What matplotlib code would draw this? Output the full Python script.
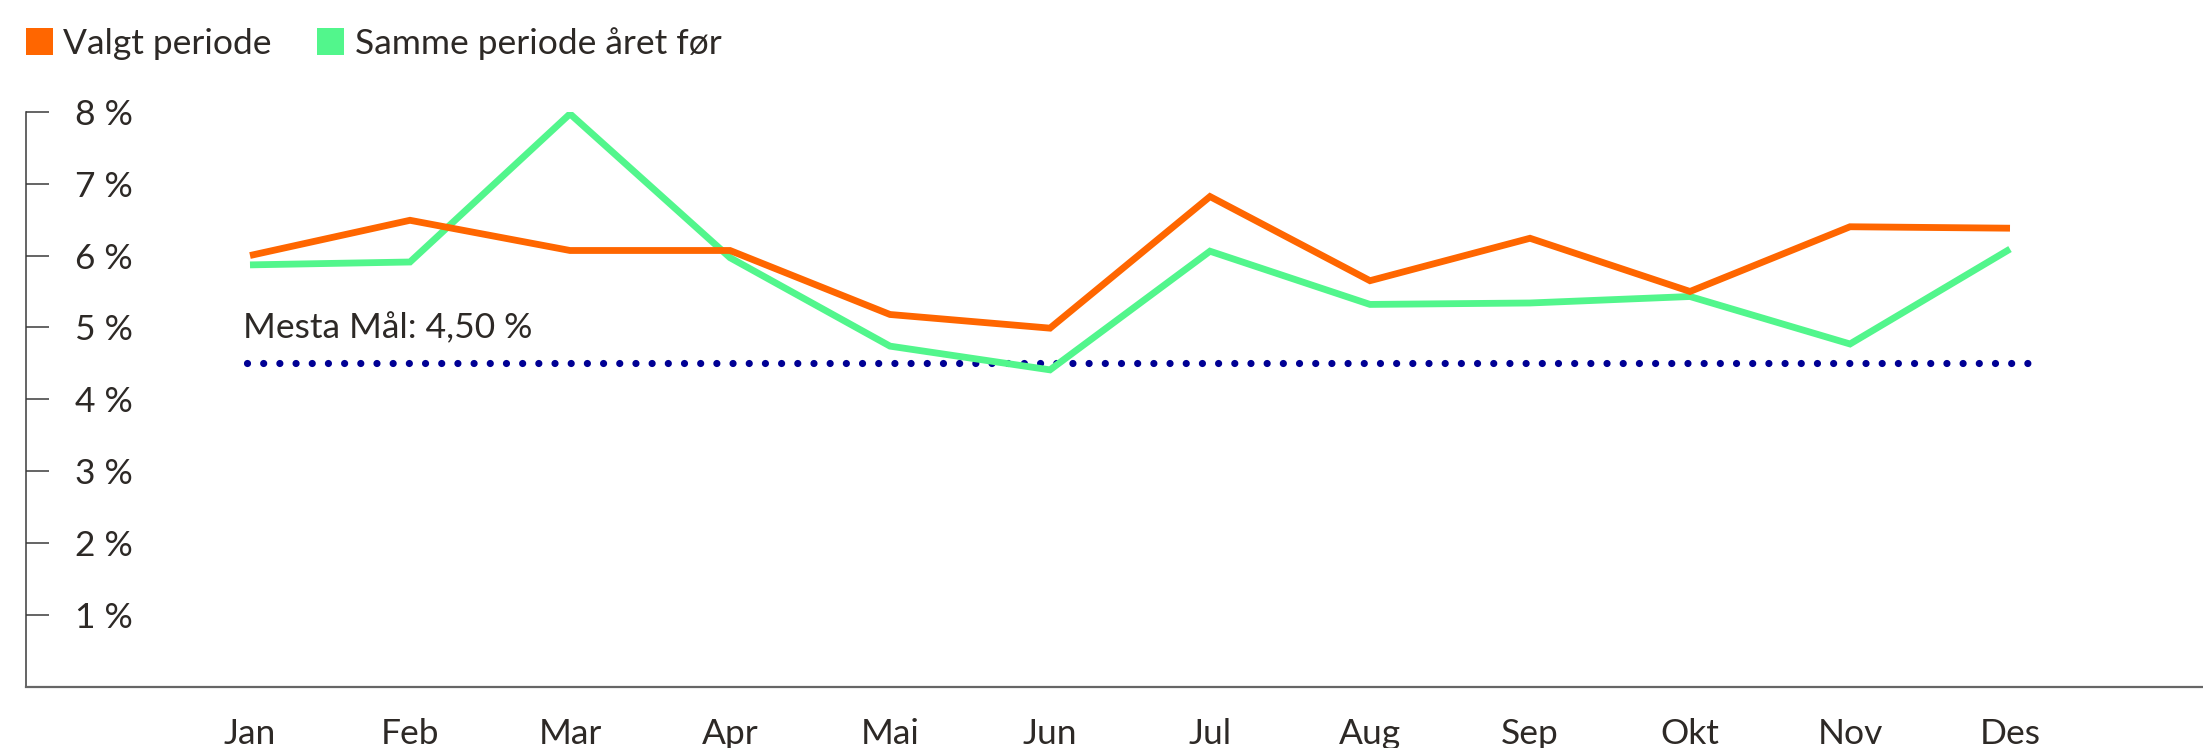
import matplotlib
matplotlib.use("Agg")
import matplotlib.pyplot as plt
from matplotlib.patches import Rectangle
import numpy as np

plt.rcParams['font.family'] = ['Lato', 'DejaVu Sans']

months = ["Jan", "Feb", "Mar", "Apr", "Mai", "Jun", "Jul", "Aug", "Sep", "Okt", "Nov", "Des"]
valgt_periode = [6.00, 6.49, 6.07, 6.07, 5.18, 4.99, 6.82, 5.65, 6.24, 5.50, 6.40, 6.38]
samme_periode_aaret_for = [5.87, 5.91, 7.97, 5.97, 4.74, 4.41, 6.06, 5.32, 5.34, 5.43, 4.77, 6.09]
series_labels = ["Valgt periode", "Samme periode året før"]
goal_value = 4.5
goal_label = "Mesta Mål"
y_ticks = [1, 2, 3, 4, 5, 6, 7, 8]

ORANGE = "#FF6600"
GREEN = "#52F68C"
NAVY = "#000094"
TEXT = "#2d2926"
FS = 25.5

W, H = 2203, 748
fig = plt.figure(figsize=(W / 100, H / 100), dpi=100)
ax = fig.add_axes([25.7 / W, 1 - 687 / H, 1 - 25.7 / W, (687 - 111.7) / H])

x = np.arange(len(months))
ax.plot(x, samme_periode_aaret_for, color=GREEN, lw=4.9,
        solid_joinstyle='miter', solid_capstyle='butt', zorder=3)
ax.plot(x, valgt_periode, color=ORANGE, lw=4.9,
        solid_joinstyle='miter', solid_capstyle='butt', zorder=4)

# goal line (dotted, round dots)
ax.plot([x[0] - 0.02, x[-1] + 0.115], [goal_value, goal_value], color=NAVY,
        lw=5.2, linestyle=(0, (0.001, 2.24)), dash_capstyle='round', zorder=2)
goal_txt = f"{goal_label}: {goal_value:.2f}".replace(".", ",") + " %"
ax.text(x[0] - 0.044, goal_value + 0.35, goal_txt, fontsize=FS, color=TEXT,
        ha='left', va='baseline')

ax.set_xlim((25.7 - 250) / 160, (W - 250) / 160)
ax.set_ylim(0, 8)

for s in ['top', 'right']:
    ax.spines[s].set_visible(False)
ax.spines['left'].set_color('#3a3a3a')
ax.spines['left'].set_linewidth(1.1)
ax.spines['bottom'].set_color('#666666')
ax.spines['bottom'].set_linewidth(1.6)

ax.set_yticks(y_ticks)
ax.set_yticklabels([f"{t} %" for t in y_ticks])
ax.tick_params(axis='y', direction='in', length=16.3, width=1.1, color='#3a3a3a',
               pad=-35.5, labelsize=FS, labelcolor=TEXT)
for lab in ax.get_yticklabels():
    lab.set_horizontalalignment('left')

ax.set_xticks(x)
ax.set_xticklabels(months)
ax.tick_params(axis='x', length=0, pad=22.5, labelsize=FS, labelcolor=TEXT)

# legend (manual squares + text)
sq = 26.5
leg_items = [(26, 63, ORANGE, series_labels[0]), (317, 355, GREEN, series_labels[1])]
for sx, tx, col, lab in leg_items:
    fig.add_artist(Rectangle((sx / W, 1 - (28.3 + sq) / H), sq / W, sq / H,
                             transform=fig.transFigure, facecolor=col, edgecolor='none'))
    fig.text(tx / W, 1 - 54.3 / H, lab, fontsize=FS, color=TEXT, ha='left', va='baseline')

fig.savefig("out.png", dpi=100, facecolor='white')
